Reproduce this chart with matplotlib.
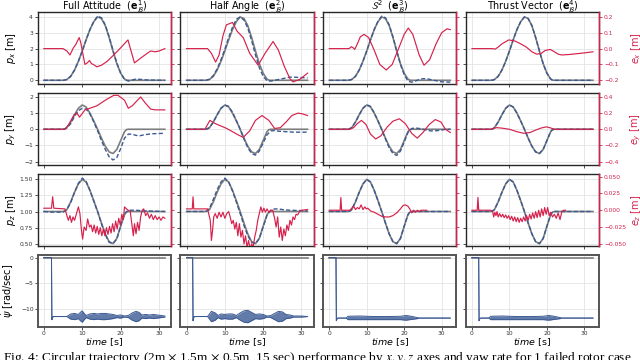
import matplotlib.pyplot as plt

# colours
GRAY = '#7d7d7d'
BLUE = '#3b5a93'
RED = '#d6214c'

titles = [r'Full Attitude  ($\mathbf{e}_{\mathcal{B}}^1$)', r'Half Angle  ($\mathbf{e}_{\mathcal{B}}^2$)',
          r'$\mathcal{S}^2$  ($\mathbf{e}_{\mathcal{B}}^3$)', r'Thrust Vector  ($\mathbf{e}_{\mathcal{B}}^4$)']
t_end = [31.5, 31.6, 32.3, 32.3]

# reference trajectory (same for every controller)
ref_t = [0, 5, 5.5, 6, 7, 8, 9, 10, 11, 12, 13, 14, 15, 16, 17, 18, 19, 20, 21, 21.5, 22]
px_ref = [0, 0, 0.01, 0.05, 0.25, 0.65, 1.2, 1.85, 2.55, 3.2, 3.7, 4.0, 3.9, 3.45, 2.7, 1.85, 1.05, 0.45, 0.08, 0.01, 0]
py_ref = [0, 0, 0.02, 0.1, 0.45, 0.9, 1.3, 1.5, 1.38, 1.0, 0.52, 0.0, -0.55, -1.05, -1.4, -1.5, -1.25, -0.7, -0.15, -0.02, 0]
pz_ref = [1, 1, 1.007, 1.03, 1.15, 1.3, 1.43, 1.5, 1.46, 1.33, 1.17, 1.0, 0.82, 0.65, 0.53, 0.5, 0.58, 0.77, 0.95, 0.99, 1.0]

# measured positions (dashed blue)
px_act_t = [[0, 5, 6, 7, 8, 9, 10, 11, 12, 13, 14, 15, 16, 17, 18, 19, 20, 21, 22, 23, 24, 25, 27, 31.5],
            [0, 5, 6, 7, 8, 9, 10, 11, 12, 13, 14, 15, 16, 17, 18, 19, 20, 21, 22, 23, 24, 25, 26, 27, 28, 31.6],
            [0, 5, 6, 7, 8, 9, 10, 11, 12, 13, 14, 15, 16, 17, 18, 19, 20, 21, 22, 23, 24, 25, 26, 27, 28, 29, 30, 31, 32.3],
            ref_t]
px_act = [[0, 0, 0.05, 0.25, 0.65, 1.2, 1.85, 2.55, 3.2, 3.72, 4.05, 3.95, 3.5, 2.75, 1.9, 1.1, 0.45, 0.05, -0.05, 0.02, 0.08, 0.06, 0.02, 0.0],
          [0, 0, 0.07, 0.3, 0.72, 1.3, 1.97, 2.7, 3.35, 3.85, 4.0, 3.8, 3.3, 2.5, 1.6, 0.8, 0.25, -0.03, -0.05, 0.0, 0.05, 0.1, 0.15, 0.2, 0.2, 0.15],
          [0, 0, 0.05, 0.25, 0.65, 1.2, 1.85, 2.55, 3.2, 3.72, 4.05, 3.95, 3.5, 2.75, 1.85, 1.0, 0.35, -0.05, -0.12, -0.05, 0.05, 0.1, 0.1, 0.05, 0.0, -0.05, -0.1, -0.1, -0.12],
          px_ref]
py_act_t = [[0, 5, 6, 7, 8, 9, 10, 11, 12, 13, 14, 15, 16, 17, 18, 19, 20, 21, 22, 23, 24, 25, 26, 28, 31.5],
            [0, 5, 6, 7, 8, 9, 10, 11, 12, 13, 14, 15, 16, 17, 18, 19, 20, 21, 22, 23, 24, 26, 28, 31.6],
            [0, 5, 6, 7, 8, 9, 10, 11, 12, 13, 14, 15, 16, 17, 18, 19, 20, 21, 22, 23, 24, 25, 26, 27, 28, 29, 30, 31, 32.3],
            ref_t]
py_act = [[0, 0, 0.08, 0.35, 0.8, 1.15, 1.3, 1.25, 0.95, 0.45, -0.1, -0.7, -1.25, -1.7, -1.9, -1.75, -1.2, -0.55, -0.3, -0.3, -0.38, -0.4, -0.35, -0.28, -0.25],
          [0, 0, 0.1, 0.45, 0.9, 1.3, 1.5, 1.42, 1.05, 0.55, 0.0, -0.6, -1.15, -1.5, -1.6, -1.35, -0.85, -0.35, -0.1, -0.08, -0.12, -0.15, -0.18, -0.18],
          [0, 0, 0.1, 0.45, 0.9, 1.3, 1.52, 1.42, 1.02, 0.52, -0.02, -0.6, -1.15, -1.5, -1.62, -1.35, -0.8, -0.2, 0.05, 0.08, 0.05, 0.0, -0.05, -0.1, -0.1, -0.08, -0.05, 0.0, 0.0],
          py_ref]
pz_act_t = [[0, 2, 5, 6, 7, 8, 9, 10, 11, 12, 13, 14, 15, 16, 17, 18, 19, 20, 21, 22, 23, 24, 26, 31.5],
            [0, 5, 6, 7, 8, 9, 10, 11, 12, 13, 14, 15, 16, 17, 18, 19, 20, 21, 22, 23, 24, 25, 27, 31.6],
            ref_t, ref_t]
pz_act = [[1.0, 0.99, 0.99, 1.03, 1.14, 1.3, 1.44, 1.52, 1.47, 1.33, 1.16, 1.0, 0.81, 0.64, 0.52, 0.5, 0.57, 0.78, 0.97, 1.02, 1.02, 1.02, 1.01, 1.0],
          [1.0, 1.0, 1.05, 1.19, 1.34, 1.46, 1.52, 1.46, 1.32, 1.15, 0.97, 0.78, 0.62, 0.52, 0.5, 0.58, 0.76, 0.94, 1.02, 1.04, 1.04, 1.03, 1.02, 1.01],
          pz_ref, pz_ref]

# tracking errors (red, right axis)
ex_t = [[0, 5, 6, 6.8, 7.7, 8.3, 9.2, 9.6, 10.7, 11.3, 11.9, 12.4, 12.9, 13.8, 15, 16.5, 18.2, 20, 21.9, 22.3, 23.6, 25.2, 26.9, 27.8, 29, 30, 31.5],
        [0, 5.5, 6.5, 7.6, 8.5, 9.5, 10.4, 12, 13.2, 14.8, 16.5, 18.7, 20.5, 22.6, 24, 25.5, 27, 27.8, 29.5, 31.6],
        [0, 5.3, 5.9, 6.4, 6.8, 7.5, 8.3, 9.3, 10.5, 12, 13.5, 15.2, 16.8, 18.5, 20, 21.1, 22.3, 24, 25.3, 26.8, 28.5, 30, 31.4, 32.3],
        [0, 5.5, 6.2, 7, 8, 9.8, 11.5, 13, 14.5, 16, 17.3, 18.5, 19.5, 20.9, 22, 23, 24, 26, 28, 30, 32.3]]
ex = [[0, 0, -0.015, -0.04, 0.005, 0.025, 0.07, 0.04, -0.1, -0.09, -0.075, -0.095, -0.1, -0.115, -0.105, -0.08, -0.04, 0.005, 0.055, 0.02, -0.09, -0.06, -0.03, -0.015, -0.02, -0.015, 0.0],
      [0, 0, -0.03, -0.085, -0.04, 0.08, 0.15, 0.165, 0.11, 0.07, -0.03, -0.105, -0.03, 0.045, -0.01, -0.11, -0.19, -0.21, -0.195, -0.155],
      [0, 0, 0.012, 0.005, -0.005, 0.03, 0.075, 0.09, 0.07, -0.01, -0.1, -0.135, -0.1, 0.0, 0.09, 0.13, 0.09, -0.04, -0.105, -0.07, 0.03, 0.1, 0.125, 0.12],
      [0, 0, -0.003, 0.01, 0.03, 0.055, 0.048, 0.03, 0.01, -0.02, -0.035, -0.03, -0.012, -0.005, -0.02, -0.035, -0.04, -0.037, -0.032, -0.027, -0.02]]
ey_t = [[0, 5.5, 6.5, 7.9, 8.6, 9.3, 10.7, 12, 13.8, 16, 18.2, 19.3, 21, 22, 23, 25.2, 26.5, 27.8, 29, 31.5],
        [0, 4.8, 6.1, 7.5, 9, 10.5, 12, 13.5, 14.8, 16.5, 18, 19.7, 21.5, 23, 24.5, 26, 27.5, 29.1, 30.3, 31.6],
        [0, 5.5, 6.5, 7.5, 8.6, 9.8, 11, 12.4, 13.8, 15.5, 17, 18.7, 20.3, 22, 23.5, 25, 26.7, 28.3, 29.8, 31, 32.3],
        [0, 5, 6.6, 8, 10, 12, 13.8, 15.5, 17, 18.5, 19.9, 21, 22, 32.3]]
ey = [[0, 0, 0.06, 0.18, 0.2, 0.15, 0.24, 0.26, 0.29, 0.36, 0.42, 0.42, 0.36, 0.26, 0.29, 0.4, 0.32, 0.25, 0.24, 0.24],
      [0, 0, 0.11, 0.07, 0.04, 0.01, -0.03, -0.07, -0.1, -0.02, 0.11, 0.17, 0.11, 0.01, 0.02, 0.09, 0.17, 0.2, 0.19, 0.17],
      [0, 0, 0.02, 0.07, 0.11, 0.06, -0.06, -0.12, -0.08, 0.03, 0.1, 0.13, 0.07, -0.05, -0.11, -0.04, 0.06, 0.12, 0.09, 0.0, -0.04],
      [0, 0, 0.02, 0.014, 0.0, -0.03, -0.05, -0.04, -0.01, 0.016, 0.03, 0.016, 0.0, 0.0]]
ez_t = [[0, 2.0, 2.3, 2.6, 5.5, 6.0, 6.4, 6.8, 7.2, 7.6, 8.0, 8.5, 9.0, 9.4, 9.8, 10.1, 10.5, 11.0, 11.4, 11.9,
         12.3, 12.7, 13.1, 13.5, 13.9, 14.3, 14.7, 15.1, 15.5, 15.9, 16.3, 16.7, 17.1, 17.5, 17.9, 18.3, 18.7, 19.1, 19.5, 19.9,
         20.3, 20.7, 21.0, 21.5, 22.0, 22.5, 22.9, 23.3, 23.6, 24.0, 24.4, 24.8, 25.2, 25.6, 26.0, 26.5, 27.0, 27.5, 28.0, 28.5,
         29.0, 29.5, 30.0, 30.5, 31.0, 31.5],
        [0, 1.5, 1.7, 1.9, 5.5, 5.9, 6.2, 6.5, 6.8, 7.1, 7.5, 8.0, 8.5, 9.0, 9.5, 10.0, 10.5, 11.0, 11.4, 11.8,
         12.2, 12.6, 13.0, 13.4, 13.8, 14.2, 14.6, 15.0, 15.4, 15.8, 16.2, 16.6, 17.0, 17.4, 17.8, 18.2, 18.6, 19.0, 19.4, 19.8,
         20.2, 20.6, 21.0, 21.5, 22.0, 22.5, 23.0, 23.4, 23.8, 24.2, 24.6, 25.0, 25.4, 25.8, 26.2, 26.6, 27.0, 27.4, 27.8, 28.2,
         28.6, 29.0, 29.5, 30.0, 31.6],
        [0, 2.9, 3.1, 3.3, 5.5, 6.0, 6.5, 7.0, 7.5, 8.0, 8.5, 9.0, 9.5, 9.9, 10.3, 11, 12, 13, 14, 15,
         16, 17, 18, 19, 19.7, 20.3, 21, 21.5, 22, 22.5, 23, 23.5, 24, 24.5, 26],
        [0, 1.4, 1.6, 1.8, 5.0, 5.5, 5.8, 6.1, 6.4, 6.7, 7.0, 7.4, 7.8, 8.2, 8.6, 9.0, 9.4, 9.8, 10.2, 10.6,
         11.0, 11.4, 11.8, 12.2, 12.6, 13.0, 13.4, 13.8, 14.2, 14.6, 15.0, 15.4, 15.8, 16.2, 16.6, 17.0, 17.4, 17.8, 18.2, 18.6,
         19.0, 19.4, 19.8, 20.2, 20.6, 21.0, 21.5, 22.0, 22.5, 23.0, 23.5, 24.0, 24.5, 25.0]]
ez = [[0.003, 0.003, 0.02, 0.003, 0.002, -0.008, -0.015, -0.008, -0.018, -0.01, -0.015, -0.005, 0.005, -0.005, -0.03,
       -0.043, -0.025, -0.03, -0.013, -0.025, -0.022, -0.032, -0.022, -0.034, -0.024, -0.036, -0.026, -0.038, -0.028, -0.038,
       -0.026, -0.036, -0.024, -0.034, -0.02, -0.032, -0.016, -0.028, -0.012, -0.022, -0.006, -0.014, 0.005, 0.002, 0.0,
       -0.002, -0.02, -0.038, -0.02, -0.035, -0.018, -0.03, -0.01, 0.0, 0.002, -0.008, -0.004, -0.012, -0.006, -0.014,
       -0.008, -0.014, -0.01, -0.015, -0.01, -0.012],
      [0.002, 0.002, 0.02, 0.002, 0.002, -0.008, -0.015, -0.045, -0.03, -0.01, -0.005, -0.012, -0.003, -0.01, -0.003,
       -0.012, -0.005, -0.002, -0.01, -0.02, -0.015, -0.028, -0.018, -0.038, -0.02, -0.04, -0.03, -0.05, -0.038, -0.055,
       -0.045, -0.058, -0.05, -0.055, -0.04, -0.03, -0.015, -0.005, 0.005, -0.003, 0.003, -0.003, 0.002, -0.003, 0.0,
       0.0, -0.012, -0.025, -0.01, -0.04, -0.025, -0.045, -0.028, -0.038, -0.022, -0.03, -0.015, -0.022, -0.01, -0.014,
       -0.006, -0.007, -0.002, 0.0, 0.001],
      [0, 0, 0.019, 0, 0, 0.003, 0.006, 0.001, 0.004, 0.002, 0.008, 0.001, 0.005, 0.002, 0.003, -0.001, -0.003, -0.006,
       -0.009, -0.01, -0.01, -0.008, -0.004, 0.002, 0.007, 0.008, 0.006, 0.002, -0.004, 0.0, -0.003, 0.0, -0.002, 0.0, 0.0],
      [0, 0, 0.019, 0, 0, -0.002, -0.01, -0.003, -0.008, -0.002, -0.01, -0.005, -0.01, -0.006, -0.011, -0.007, -0.012,
       -0.008, -0.014, -0.009, -0.016, -0.01, -0.017, -0.011, -0.018, -0.012, -0.017, -0.01, -0.016, -0.008, -0.015, -0.006,
       -0.013, -0.004, -0.012, -0.002, -0.011, 0.0, -0.01, 0.002, -0.008, 0.004, -0.006, 0.004, -0.008, -0.003, -0.01,
       -0.006, -0.012, -0.004, -0.014, -0.002, 0.0, 0.0]]

# yaw rate: envelope (upper / lower) of the measured signal
yaw_t = [[0, 2.0, 2.1, 2.3, 2.6, 6.0, 7.0, 8.0, 9.0, 9.5, 10.0, 10.5, 11.0, 12.0, 13.0, 14.0, 15.0, 16.0, 17.0, 18.0,
          19.0, 20.0, 21.0, 22.0, 23.0, 24.0, 24.8, 25.5, 26.5, 27.5, 28.5, 29.5, 30.5, 31.5],
         [0, 1.6, 1.7, 1.9, 2.2, 5.5, 6.5, 7.5, 8.2, 9.0, 10.0, 11.0, 12.0, 13.0, 14.0, 15.0, 16.0, 17.0, 18.0, 19.0,
          20.0, 21.0, 22.0, 23.0, 24.0, 25.0, 26.0, 27.0, 28.0, 30.0, 31.6],
         [0, 1.8, 1.9, 2.1, 2.4, 4.5, 5.0, 8, 12, 16, 19, 20.5, 21.5, 23.5, 24, 32.3],
         [0, 1.8, 1.9, 2.1, 2.4, 4.5, 5.0, 8, 12, 16, 19, 20.5, 21.5, 23.5, 24, 32.3]]
yaw_hi = [[0, 0, -12.0, -11.5, -11.4, -11.4, -10.9, -10.8, -11.0, -10.6, -10.3, -10.8, -11.2, -10.9, -10.8, -10.9, -10.8,
           -10.8, -10.9, -11.0, -11.2, -11.1, -11.3, -11.2, -10.7, -10.4, -10.6, -11.1, -11.0, -11.1, -11.0, -11.1, -11.2, -11.3],
          [0, 0, -12.2, -11.5, -11.4, -11.4, -10.4, -10.7, -11.2, -10.9, -11.0, -10.9, -10.9, -11.2, -10.7, -10.3, -10.2,
           -10.6, -11.0, -10.9, -11.0, -11.3, -11.2, -10.8, -10.4, -10.5, -11.0, -11.1, -11.3, -11.3, -11.4],
          [0, 0, -12.2, -11.8, -11.7, -11.7, -11.35, -11.3, -11.4, -11.4, -11.35, -11.2, -11.3, -11.6, -11.7, -11.7],
          [0, 0, -12.2, -11.8, -11.7, -11.7, -11.35, -11.3, -11.4, -11.4, -11.35, -11.2, -11.3, -11.6, -11.7, -11.7]]
yaw_lo = [[0, 0, -12.0, -11.5, -11.4, -11.4, -11.9, -12.0, -11.8, -12.2, -12.5, -12.0, -11.6, -11.9, -12.0, -11.9, -12.0,
           -12.0, -11.9, -11.8, -11.6, -11.7, -11.5, -11.6, -12.1, -12.4, -12.2, -11.7, -11.8, -11.7, -11.8, -11.7, -11.6, -11.5],
          [0, 0, -12.2, -11.5, -11.4, -11.4, -12.4, -12.1, -11.6, -11.9, -11.8, -11.9, -11.9, -11.6, -12.1, -12.5, -12.6,
           -12.2, -11.8, -11.9, -11.8, -11.5, -11.6, -12.0, -12.4, -12.3, -11.8, -11.7, -11.5, -11.5, -11.4],
          [0, 0, -12.2, -11.8, -11.7, -11.7, -12.0, -12.0, -12.0, -12.0, -12.0, -12.1, -12.0, -11.8, -11.7, -11.7],
          [0, 0, -12.2, -11.8, -11.7, -11.7, -12.0, -12.0, -12.0, -12.0, -12.0, -12.1, -12.0, -11.8, -11.7, -11.7]]

caption = (r'Fig. 4: Circular trajectory (2m $\times$ 1.5m $\times$ 0.5m, 15 sec) performance by $x, y, z$ '
           r'axes and yaw rate for 1 failed rotor case')

# per-row settings for the three position rows
pos_ref = [px_ref, py_ref, pz_ref]
pos_act_t = [px_act_t, py_act_t, pz_act_t]
pos_act = [px_act, py_act, pz_act]
err_t = [ex_t, ey_t, ez_t]
err = [ex, ey, ez]
left_lim = [(-0.22, 4.32), (-2.2, 2.25), (0.465, 1.585)]
right_lim = [(-0.222, 0.232), (-0.44, 0.45), (-0.053, 0.054)]
left_ticks = [[0, 1, 2, 3, 4], [-2, -1, 0, 1, 2], [0.5, 0.75, 1.0, 1.25, 1.5]]
right_ticks = [[-0.2, -0.1, 0, 0.1, 0.2], [-0.4, -0.2, 0, 0.2, 0.4], [-0.05, -0.025, 0, 0.025, 0.05]]
left_names = [r'$p_x$ [m]', r'$p_y$ [m]', r'$p_z$ [m]']
right_names = [r'$e_x$ [m]', r'$e_y$ [m]', r'$e_z$ [m]']


def extend(t, v, T):
    # hold the last value up to the end of the run
    if t[-1] < T:
        return list(t) + [T], list(v) + [v[-1]]
    return t, v


def style(ax, edge, lw):
    ax.grid(True, color='#e4e4e4', lw=0.6)
    ax.set_axisbelow(True)
    for s in ax.spines.values():
        s.set_color(edge)
        s.set_linewidth(lw)
    ax.tick_params(labelsize=4.3, length=2, width=0.6, pad=1.5, colors='#333333')


fig = plt.figure(figsize=(6.4, 3.6), dpi=100)
gs = fig.add_gridspec(4, 4, left=0.059, right=0.936, top=0.967, bottom=0.092, wspace=0.072, hspace=0.127)

for c in range(4):
    T = t_end[c]
    for r in range(3):
        ax = fig.add_subplot(gs[r, c])
        style(ax, '#262626', 1.0)
        tt, vv = extend(ref_t, pos_ref[r], T)
        ax.plot(tt, vv, color=GRAY, lw=1.2)
        tt, vv = extend(pos_act_t[r][c], pos_act[r][c], T)
        ax.plot(tt, vv, color=BLUE, lw=1.0, ls=(0, (3, 1.6)))
        ax.set_xlim(-0.05 * T, 1.05 * T)
        ax.set_ylim(*left_lim[r])
        ax.set_yticks(left_ticks[r])
        ax.set_xticks([0, 10, 20, 30])
        ax.tick_params(labelbottom=False, labelleft=(c == 0))
        if c == 0:
            ax.set_ylabel(left_names[r], fontsize=7)
            ax.yaxis.set_label_coords(-0.15, 0.5)
        if r == 0:
            # baseline a couple of pixels above the frame
            ax.text(0.5, 1.025, titles[c], transform=ax.transAxes, ha='center', va='baseline', fontsize=6.9)

        ax2 = ax.twinx()
        ax2.plot(err_t[r][c], err[r][c], color=RED, lw=0.85)
        ax2.set_ylim(*right_lim[r])
        ax2.set_yticks(right_ticks[r])
        for side in ['left', 'top', 'bottom']:
            ax2.spines[side].set_visible(False)
        ax2.spines['right'].set_color(RED)
        ax2.spines['right'].set_linewidth(1.0)
        ax2.tick_params(axis='y', labelsize=4.3, length=2, width=0.6, pad=1.5, colors=RED,
                        labelright=(c == 3))
        if c == 3:
            ax2.set_ylabel(right_names[r], fontsize=7, color=RED)
            ax2.yaxis.set_label_coords(1.225, 0.5)

    # yaw rate row
    ax = fig.add_subplot(gs[3, c])
    style(ax, '#555555', 1.4)
    ax.plot([0, T], [0, 0], color=GRAY, lw=1.2)
    ax.fill_between(yaw_t[c], yaw_lo[c], yaw_hi[c], color=BLUE, lw=0, alpha=0.8)
    ax.plot(yaw_t[c], yaw_hi[c], color=BLUE, lw=0.7)
    ax.plot(yaw_t[c], yaw_lo[c], color=BLUE, lw=0.7)
    ax.set_xlim(-0.05 * T, 1.05 * T)
    ax.set_ylim(-13.4, 0.5)
    ax.set_yticks([-10, -5, 0])
    ax.set_xticks([0, 10, 20, 30])
    ax.tick_params(labelleft=(c == 0), pad=1)
    ax.set_xlabel(r'$\mathit{time}$ [s]', fontsize=6.8, labelpad=0)
    if c == 0:
        ax.set_ylabel(r'$\dot{\psi}$ [rad/sec]', fontsize=7)
        ax.yaxis.set_label_coords(-0.16, 0.5)

fig.text(0.004, 0.028, caption, family='Liberation Serif', math_fontfamily='stix',
         fontsize=9.6, va='top', ha='left')

fig.savefig('out.png', dpi=100)
